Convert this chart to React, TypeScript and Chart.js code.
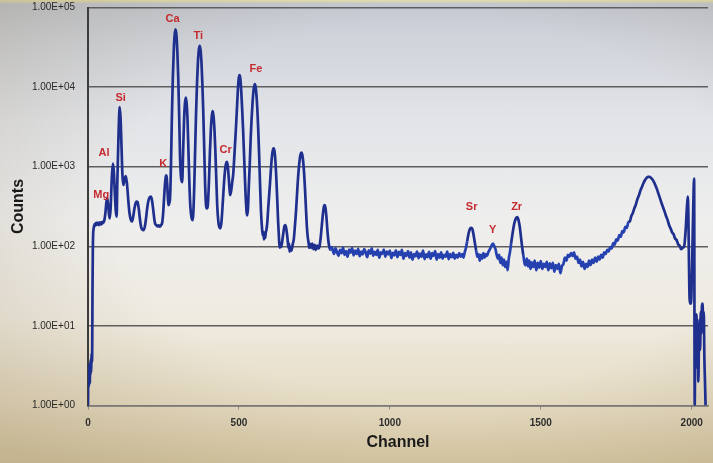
import { useEffect, useRef } from 'react';
import { Chart, registerables } from 'chart.js';

Chart.register(...registerables);

// [channel, counts]
const detectorEdge: [number, number][] = [
  [0, 1], [1, 2.6], [2, 1.7], [3, 3.2], [4, 2.1], [5, 2.9], [6, 1.9], [7, 3.4], [8, 2.4], [9, 3.8],
  [10, 2.6], [11, 3.3], [12, 4.5], [13, 3.5], [14, 5.5], [15, 30], [16, 90], [17, 140],
];

const lightElements: [number, number][] = [
  [18, 160], [20, 178], [22, 190], [24, 182], [26, 195], [28, 186], [30, 198], [32, 188], [34, 196],
  [36, 185], [38, 200], [40, 190], [42, 198], [44, 188], [46, 202], [48, 194], [50, 205], [52, 200],
  [55, 220], [58, 270], [61, 360], [64, 400], [67, 320], [70, 245], [72, 224], [75, 300], [78, 600],
  [80, 850], [83, 1090], [86, 820], [89, 450], [92, 280], [95, 235], [97, 600], [100, 1700], [102, 3300],
  [105, 5600], [108, 4000], [111, 1800], [114, 800], [117, 590], [121, 680], [125, 760], [129, 620],
  [133, 400], [137, 270], [142, 215], [146, 205], [150, 240], [154, 300], [158, 350], [161, 365],
  [164, 360], [168, 300], [172, 220], [176, 175], [180, 162], [184, 160], [188, 175], [192, 220],
  [196, 300], [200, 370], [204, 410], [208, 420], [212, 380], [216, 290], [220, 215], [223, 190],
  [226, 185], [230, 178], [234, 183], [238, 176], [242, 184], [246, 200],
];

const midElements: [number, number][] = [
  [249, 260], [252, 400], [255, 600], [257, 720], [259, 780], [261, 720], [263, 550], [266, 328],
  [269, 345], [272, 420], [275, 1100], [278, 4400], [281, 13000], [284, 28000], [287, 45000],
  [290, 53000], [293, 45000], [296, 28000], [299, 13000], [302, 4400], [305, 1300], [308, 750],
  [312, 640], [315, 1500], [318, 3600], [321, 6100], [324, 7400], [327, 6100], [330, 3600],
  [333, 1470], [336, 600], [339, 320], [343, 230], [347, 213], [349, 264], [352, 570], [355, 1650],
  [358, 4700], [361, 10800], [364, 20000], [367, 29000], [370, 33000], [373, 29000], [376, 20000],
  [379, 10800], [382, 4700], [385, 1700], [388, 600], [391, 330], [394, 300], [397, 330], [401, 700],
  [404, 1550], [407, 2900], [410, 4300], [413, 5000], [416, 4300], [419, 2900], [422, 1550],
  [425, 700], [428, 330], [432, 200], [435, 175], [438, 168], [442, 200], [446, 330], [450, 580],
  [454, 900], [457, 1080], [460, 1150], [463, 1020], [466, 750], [469, 520], [471, 440], [475, 520],
  [478, 650],
];

const ironGroup: [number, number][] = [
  [481, 800], [484, 1200], [487, 1900], [490, 3000], [493, 5000], [496, 8500], [499, 12500],
  [502, 14100], [505, 12500], [508, 8500], [511, 5000], [514, 2800], [517, 1400], [520, 700],
  [523, 380], [527, 245], [530, 300], [533, 600], [536, 1100], [539, 2300], [542, 4000], [545, 6300],
  [548, 8800], [552, 10900], [555, 10200], [558, 8000], [561, 5300], [564, 2900], [567, 1400],
  [570, 600], [573, 280], [577, 160], [579, 138], [581, 152], [583, 122], [585, 136], [587, 128],
  [589, 150], [591, 160], [594, 200], [597, 300], [600, 430], [603, 620], [606, 930], [609, 1300],
  [612, 1590], [615, 1700], [618, 1550], [621, 1150], [624, 700], [627, 380], [630, 200], [633, 120],
  [635, 96], [637, 110], [640, 98], [644, 120], [648, 155], [651, 180], [654, 185], [657, 165],
  [661, 125], [664, 96], [666, 108], [668, 86], [671, 98], [674, 88], [678, 105], [682, 125],
  [686, 190], [689, 270], [692, 420], [695, 650], [698, 920], [701, 1200], [704, 1420], [707, 1500],
  [710, 1400], [713, 1150], [716, 820], [719, 520], [722, 300], [725, 180], [728, 130], [731, 110],
  [733, 96], [735, 108], [739, 95], [743, 108], [747, 92], [751, 104], [755, 90], [759, 102],
  [763, 94], [767, 100], [771, 130], [775, 190], [779, 270], [782, 320], [784, 330], [787, 300],
  [790, 230], [793, 160], [796, 120], [799, 100], [803, 90], [807, 98],
];

const plateau: [number, number][] = [
  [810, 92], [815, 80], [820, 95], [825, 84], [830, 76], [835, 90], [840, 82], [845, 96], [850, 78],
  [855, 87], [860, 74], [865, 91], [870, 83], [875, 95], [880, 77], [885, 88], [890, 80], [895, 93],
  [900, 75], [905, 86], [910, 79], [915, 92], [920, 84], [925, 73], [930, 89], [935, 81], [940, 94],
  [945, 76], [950, 85], [955, 78], [960, 90], [965, 72], [970, 84], [975, 80], [980, 91], [985, 74],
  [990, 86], [995, 79], [1000, 88], [1005, 71], [1010, 83], [1015, 77], [1020, 89], [1025, 73],
  [1030, 85], [1035, 78], [1040, 90], [1045, 70], [1050, 82], [1055, 76], [1060, 87], [1065, 72],
  [1070, 84], [1075, 68], [1080, 80], [1085, 75], [1090, 86], [1095, 71], [1100, 81], [1105, 74],
  [1110, 88], [1115, 69], [1120, 79], [1125, 73], [1130, 85], [1135, 70], [1140, 82], [1145, 76],
  [1150, 87], [1155, 68], [1160, 80], [1165, 72], [1170, 84], [1175, 70], [1180, 78], [1185, 74],
  [1190, 86], [1195, 69], [1200, 80], [1205, 73], [1210, 83], [1215, 70], [1220, 78], [1225, 72],
  [1230, 82], [1235, 74],
];

const heavyElements: [number, number][] = [
  [1240, 80], [1244, 72], [1248, 84], [1252, 95], [1256, 115], [1260, 140], [1264, 160], [1268, 170],
  [1271, 171], [1274, 162], [1278, 135], [1282, 108], [1286, 88], [1290, 74], [1294, 80], [1298, 66],
  [1302, 78], [1306, 70], [1310, 82], [1314, 72], [1318, 80], [1322, 76], [1326, 84], [1330, 90],
  [1334, 96], [1338, 104], [1342, 108], [1346, 100], [1350, 92], [1354, 78], [1358, 70], [1362, 78],
  [1366, 62], [1370, 72], [1374, 58], [1378, 68], [1382, 55], [1386, 64], [1390, 50], [1394, 70],
  [1398, 85], [1402, 110], [1406, 140], [1410, 175], [1414, 205], [1418, 225], [1422, 232],
  [1426, 215], [1430, 180], [1434, 135], [1438, 100], [1442, 78], [1446, 62], [1450, 58], [1454, 70],
  [1458, 56], [1462, 66], [1466, 52], [1470, 63], [1475, 55], [1480, 66], [1485, 50], [1490, 62],
  [1495, 54], [1500, 65], [1505, 52], [1510, 60], [1515, 55], [1520, 64], [1525, 50], [1530, 61],
  [1535, 53], [1540, 62], [1545, 48], [1550, 58], [1555, 52], [1560, 60], [1565, 46], [1570, 56],
  [1575, 60], [1580, 72], [1585, 66], [1590, 78], [1595, 74], [1600, 82], [1605, 76], [1610, 84],
  [1615, 70], [1620, 74], [1625, 62], [1630, 68], [1635, 56], [1640, 64], [1645, 52], [1650, 60],
  [1655, 55], [1660, 66], [1665, 58], [1670, 68], [1675, 62], [1680, 72], [1685, 64], [1690, 74],
  [1695, 68], [1700, 78], [1705, 72], [1710, 84], [1715, 80], [1720, 90], [1725, 86], [1730, 98],
  [1735, 94], [1740, 110], [1745, 105], [1750, 122], [1755, 118], [1760, 138], [1765, 132],
  [1770, 155], [1775, 150], [1780, 175], [1785, 170], [1790, 200], [1795, 205], [1800, 240],
];

const scatterHump: [number, number][] = [
  [1805, 262], [1810, 300], [1815, 335], [1820, 390], [1825, 435], [1830, 500], [1835, 555],
  [1840, 620], [1845, 675], [1850, 720], [1855, 745], [1860, 745], [1865, 725], [1870, 690],
  [1875, 640], [1880, 580], [1885, 520], [1890, 455], [1895, 400], [1900, 350], [1905, 310],
  [1910, 275], [1915, 240], [1920, 215], [1925, 185], [1930, 168], [1935, 150], [1940, 142],
  [1945, 125], [1950, 120], [1955, 106], [1960, 102], [1965, 92], [1970, 96], [1975, 100],
  [1980, 160], [1984, 300], [1987, 420], [1989, 250], [1991, 60], [1993, 22], [1996, 19], [1999, 24],
  [2002, 80], [2005, 300], [2008, 710], [2010, 1], [2012, 10], [2014, 3], [2016, 14], [2018, 4],
  [2020, 9], [2022, 2], [2024, 6], [2026, 12], [2028, 5], [2030, 15], [2032, 8], [2034, 18],
  [2036, 19], [2038, 10], [2040, 15], [2042, 4], [2044, 2], [2046, 1],
];

const xTickValues = [0, 500, 1000, 1500, 2000];
const yTickValues = [1, 10, 100, 1000, 10000, 100000];
const yTickLabels = ['1.00E+00', '1.00E+01', '1.00E+02', '1.00E+03', '1.00E+04', '1.00E+05'];

const elementNames = ['Mg', 'Al', 'Si', 'K', 'Ca', 'Ti', 'Cr', 'Fe', 'Sr', 'Y', 'Zr'];
const elementLabelChannels = [44, 53, 108, 249, 280, 365, 456, 556, 1271, 1341, 1420];
const elementLabelCounts = [442, 1490, 7300, 1080, 71600, 43800, 1620, 16900, 315, 159, 315];

const FONT = '"Liberation Sans", Arial, sans-serif';
const PEAK_BLUE = '#1f2f8e';
const NOISE_BLUE = '#2541b0';

export default function App() {
  const canvasRef = useRef<HTMLCanvasElement>(null);

  useEffect(() => {
    const canvas = canvasRef.current;
    if (!canvas) return;
    const points = [
      ...detectorEdge, ...lightElements, ...midElements, ...ironGroup,
      ...plateau, ...heavyElements, ...scatterHump,
    ].map(([x, y]) => ({ x, y }));

    const labelPlugin = {
      id: 'elementLabels',
      afterDatasetsDraw(chart: any) {
        const { ctx, scales } = chart;
        ctx.save();
        ctx.font = `bold 11px ${FONT}`;
        ctx.fillStyle = '#c42a2e';
        ctx.textAlign = 'center';
        ctx.textBaseline = 'middle';
        elementNames.forEach((name, i) => {
          ctx.fillText(
            name,
            scales.x.getPixelForValue(elementLabelChannels[i]),
            scales.y.getPixelForValue(elementLabelCounts[i]),
          );
        });
        ctx.restore();
      },
    };

    const chart = new Chart(canvas, {
      type: 'line',
      data: {
        datasets: [
          {
            data: points,
            borderColor: PEAK_BLUE,
            borderWidth: 2.7,
            pointRadius: 0,
            fill: false,
            cubicInterpolationMode: 'monotone',
            segment: {
              borderColor: (ctx: any) => {
                const x = ctx.p0.parsed.x;
                return x > 800 && x < 1790 && !(x > 1255 && x < 1285) && !(x > 1400 && x < 1440)
                  ? NOISE_BLUE
                  : PEAK_BLUE;
              },
            },
          },
        ],
      },
      options: {
        animation: false,
        responsive: false,
        devicePixelRatio: 1,
        layout: { padding: { top: 7.5, right: 5, left: 0, bottom: 0 } },
        plugins: { legend: { display: false }, tooltip: { enabled: false } },
        scales: {
          x: {
            type: 'linear',
            min: 0,
            max: 2054,
            afterBuildTicks: (s: any) => {
              s.ticks = xTickValues.map((v) => ({ value: v }));
            },
            afterFit: (s: any) => {
              s.height = 57.5;
              s.paddingLeft = 0;
              s.paddingRight = 0;
            },
            grid: { drawOnChartArea: false, drawTicks: true, tickLength: 4, color: '#8a8a8a' },
            border: { display: true, color: '#7a7a7a', width: 1.5 },
            ticks: {
              color: '#2e2e2e',
              font: { family: FONT, size: 10, weight: 'bold' },
              padding: 8,
              maxRotation: 0,
              callback: (v: any) => String(v),
            },
            title: {
              display: true,
              text: 'Channel',
              color: '#1a1a1a',
              font: { family: FONT, size: 16, weight: 'bold' },
              padding: { top: 0, bottom: 10.5 },
            },
          },
          y: {
            type: 'logarithmic',
            min: 1,
            max: 100000,
            afterBuildTicks: (s: any) => {
              s.ticks = yTickValues.map((v) => ({ value: v }));
            },
            afterFit: (s: any) => {
              s.width = 88;
              s.paddingTop = 0;
              s.paddingBottom = 0;
            },
            grid: { color: '#5e5e5e', lineWidth: 1.5, drawTicks: false },
            border: { display: true, color: '#3c3c3c', width: 2 },
            ticks: {
              color: '#2a2a2a',
              font: { family: FONT, size: 10 },
              padding: 13,
              callback: (_v: any, i: number) => yTickLabels[i],
            },
            title: {
              display: true,
              text: 'Counts',
              color: '#1a1a1a',
              font: { family: FONT, size: 16, weight: 'bold' },
              padding: { top: 8.5, bottom: 0 },
            },
          },
        },
      },
      plugins: [labelPlugin],
    } as any);

    return () => chart.destroy();
  }, []);

  return (
    <div
      style={{
        position: 'absolute',
        left: 0,
        top: 0,
        width: 713,
        height: 463,
        overflow: 'hidden',
        background:
          'radial-gradient(ellipse 80% 75% at 60% 45%, rgba(255,255,255,0) 55%, rgba(120,95,50,0.22) 100%), ' +
          'linear-gradient(180deg, #e8e0a8 0px, #c4c9d2 4px, #d0d4db 40px, #e2e4e8 120px, #eeeeed 220px, #efebe1 320px, #e6dcc4 400px, #d9cba8 463px)',
      }}
    >
      <canvas ref={canvasRef} width={713} height={463} style={{ display: 'block' }} />
    </div>
  );
}
